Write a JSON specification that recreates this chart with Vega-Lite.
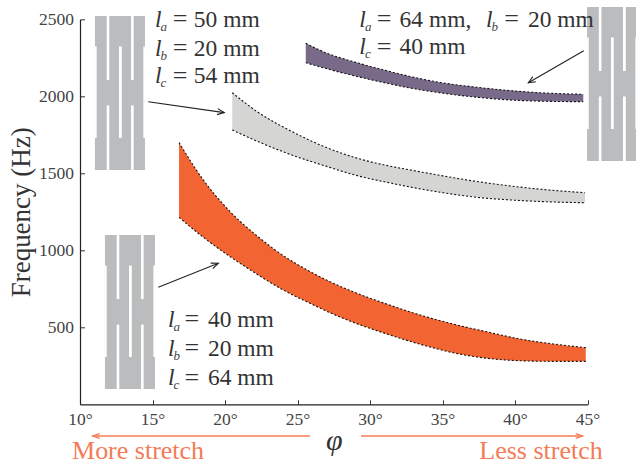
{"$schema":"https://vega.github.io/schema/vega-lite/v6.json","width":507.5,"height":385,"autosize":{"type":"none"},"padding":{"left":80,"top":19.3,"right":48,"bottom":65},"background":"white","config":{"view":{"stroke":null},"font":"Liberation Serif"},
"datasets":{
"bands":[
{"band":"orange","x":16.83,"y":1699,"y2":1214},{"band":"orange","x":18.5,"y":1457,"y2":1085},{"band":"orange","x":20.35,"y":1251,"y2":959},{"band":"orange","x":22.19,"y":1095,"y2":846},{"band":"orange","x":24.02,"y":965,"y2":742},{"band":"orange","x":25.86,"y":862,"y2":656},{"band":"orange","x":27.24,"y":796,"y2":595},{"band":"orange","x":28.83,"y":731,"y2":533},{"band":"orange","x":31.15,"y":651,"y2":457},{"band":"orange","x":33.45,"y":580,"y2":390},{"band":"orange","x":35.73,"y":521,"y2":335},{"band":"orange","x":38.05,"y":471,"y2":299},{"band":"orange","x":40.35,"y":424,"y2":283},{"band":"orange","x":42.62,"y":392,"y2":279},{"band":"orange","x":44.88,"y":368,"y2":279},
{"band":"gray","x":20.5,"y":2023,"y2":1781},{"band":"gray","x":22.3,"y":1895,"y2":1705},{"band":"gray","x":24.6,"y":1772,"y2":1619},{"band":"gray","x":26.9,"y":1671,"y2":1548},{"band":"gray","x":29.19,"y":1596,"y2":1483},{"band":"gray","x":31.5,"y":1544,"y2":1435},{"band":"gray","x":32.76,"y":1522,"y2":1411},{"band":"gray","x":35.04,"y":1483,"y2":1374},{"band":"gray","x":37.36,"y":1447,"y2":1344},{"band":"gray","x":39.66,"y":1418,"y2":1327},{"band":"gray","x":41.93,"y":1395,"y2":1316},{"band":"gray","x":44.83,"y":1374,"y2":1309},
{"band":"purple","x":25.57,"y":2344,"y2":2218},{"band":"purple","x":26.9,"y":2285,"y2":2182},{"band":"purple","x":29.19,"y":2216,"y2":2127},{"band":"purple","x":31.5,"y":2158,"y2":2078},{"band":"purple","x":32.76,"y":2129,"y2":2054},{"band":"purple","x":35.04,"y":2087,"y2":2020},{"band":"purple","x":37.36,"y":2059,"y2":1994},{"band":"purple","x":39.66,"y":2037,"y2":1976},{"band":"purple","x":41.93,"y":2022,"y2":1968},{"band":"purple","x":44.71,"y":2013,"y2":1965}],
"plates":[{"x":11.03,"x2":14.48,"y":2522,"y2":1522},{"x":11.72,"x2":15.17,"y":1099,"y2":99},{"x":44.97,"x2":48.42,"y":2580,"y2":1580}],
"cuts":[
{"x":11.03,"x2":11.15,"y":2324,"y2":1730},{"x":14.37,"x2":14.48,"y":2324,"y2":1730},{"x":11.84,"x2":12.02,"y":2522,"y2":2106},{"x":11.84,"x2":12.02,"y":1941,"y2":1522},{"x":13.52,"x2":13.7,"y":2522,"y2":2106},{"x":13.52,"x2":13.7,"y":1941,"y2":1522},{"x":12.69,"x2":12.88,"y":2324,"y2":1730},
{"x":11.72,"x2":11.84,"y":901,"y2":307},{"x":15.06,"x2":15.17,"y":901,"y2":307},{"x":12.53,"x2":12.71,"y":1099,"y2":683},{"x":12.53,"x2":12.71,"y":518,"y2":99},{"x":14.21,"x2":14.39,"y":1099,"y2":683},{"x":14.21,"x2":14.39,"y":518,"y2":99},{"x":13.38,"x2":13.57,"y":901,"y2":307},
{"x":44.97,"x2":45.09,"y":2382,"y2":1788},{"x":48.3,"x2":48.42,"y":2382,"y2":1788},{"x":45.78,"x2":45.96,"y":2580,"y2":2164},{"x":45.78,"x2":45.96,"y":1999,"y2":1580},{"x":47.45,"x2":47.64,"y":2580,"y2":2164},{"x":47.45,"x2":47.64,"y":1999,"y2":1580},{"x":46.62,"x2":46.81,"y":2382,"y2":1788}],
"blackArrows":[
{"id":"a1","o":1,"x":14.71,"y":1965},{"id":"a1","o":2,"x":19.95,"y":1894},{"id":"a1h","o":1,"x":19.45,"y":1881},{"id":"a1h","o":2,"x":19.95,"y":1894},{"id":"a1h","o":3,"x":19.5,"y":1920},
{"id":"a2","o":1,"x":15.4,"y":760},{"id":"a2","o":2,"x":19.54,"y":916},{"id":"a2h","o":1,"x":19.16,"y":881},{"id":"a2h","o":2,"x":19.54,"y":916},{"id":"a2h","o":3,"x":19.01,"y":917},
{"id":"a3","o":1,"x":44.74,"y":2296},{"id":"a3","o":2,"x":40.92,"y":2088},{"id":"a3h","o":1,"x":41.44,"y":2094},{"id":"a3h","o":2,"x":40.92,"y":2088},{"id":"a3h","o":3,"x":41.23,"y":2128}],
"orangeArrows":[
{"id":"l","o":1,"x":25.86,"y":-206},{"id":"l","o":2,"x":10.88,"y":-206},{"id":"lh","o":1,"x":11.36,"y":-190},{"id":"lh","o":2,"x":10.88,"y":-206},{"id":"lh","o":3,"x":11.36,"y":-222},
{"id":"r","o":1,"x":29.38,"y":-206},{"id":"r","o":2,"x":44.67,"y":-206},{"id":"rh","o":1,"x":44.19,"y":-190},{"id":"rh","o":2,"x":44.67,"y":-206},{"id":"rh","o":3,"x":44.19,"y":-222}],
"plain":[
{"x":17.85,"y":2452,"t":"50  mm"},{"x":17.85,"y":2264,"t":"20  mm"},{"x":17.85,"y":2085,"t":"54  mm"},
{"x":18.82,"y":504,"t":"40  mm"},{"x":18.82,"y":316,"t":"20  mm"},{"x":18.82,"y":125,"t":"64  mm"},
{"x":32.04,"y":2452,"t":"64  mm,"},{"x":40.89,"y":2452,"t":"20  mm"},{"x":32.04,"y":2273,"t":"40  mm"}],
"eq":[{"x":16.9,"y":2447,"t":"="},{"x":16.9,"y":2259,"t":"="},{"x":16.9,"y":2080,"t":"="},{"x":17.71,"y":499,"t":"="},{"x":17.71,"y":311,"t":"="},{"x":17.71,"y":120,"t":"="},{"x":30.97,"y":2447,"t":"="},{"x":39.76,"y":2447,"t":"="},{"x":30.97,"y":2268,"t":"="}],
"ell":[{"x":15.17,"y":2452,"t":"l"},{"x":15.17,"y":2264,"t":"l"},{"x":15.17,"y":2085,"t":"l"},{"x":16.07,"y":504,"t":"l"},{"x":16.07,"y":316,"t":"l"},{"x":16.07,"y":125,"t":"l"},{"x":29.26,"y":2452,"t":"l"},{"x":38.0,"y":2452,"t":"l"},{"x":29.26,"y":2273,"t":"l"}],
"subs":[{"x":15.55,"y":2426,"t":"a"},{"x":15.55,"y":2238,"t":"b"},{"x":15.55,"y":2059,"t":"c"},{"x":16.45,"y":478,"t":"a"},{"x":16.45,"y":290,"t":"b"},{"x":16.45,"y":99,"t":"c"},{"x":29.66,"y":2426,"t":"a"},{"x":38.38,"y":2426,"t":"b"},{"x":29.66,"y":2247,"t":"c"}],
"stretch":[{"x":9.45,"y":-355,"t":"More stretch"},{"x":37.54,"y":-355,"t":"Less stretch"}]
},
"encoding":{
"x":{"field":"x","type":"quantitative","scale":{"domain":[10,45],"nice":false},"axis":{"title":"φ","titleFont":"Liberation Serif","titleFontStyle":"italic","titleFontWeight":"normal","titleFontSize":30,"titleColor":"#333333","titlePadding":-3,"values":[10,15,20,25,30,35,40,45],"labelExpr":"datum.value + '°'","labelFont":"Liberation Serif","labelFontSize":17.5,"labelColor":"#444444","labelPadding":11,"tickSize":-4.5,"tickColor":"#333333","domainColor":"#222222","domainWidth":1.2,"grid":false,"labelFlush":false,"labelOverlap":false}},
"y":{"field":"y","type":"quantitative","scale":{"domain":[0,2500],"nice":false},"axis":{"title":"Frequency (Hz)","titleFont":"Liberation Serif","titleFontWeight":"normal","titleFontSize":27,"titleColor":"#333333","titlePadding":3,"values":[500,1000,1500,2000,2500],"format":"d","labelFont":"Liberation Serif","labelFontSize":17.5,"labelColor":"#444444","labelPadding":11,"tickSize":-4.5,"tickColor":"#333333","domainColor":"#222222","domainWidth":1.2,"grid":false,"labelOverlap":false}}
},
"layer":[
{"data":{"name":"plates"},"mark":{"type":"rect","color":"#bbbcbe"},"encoding":{"x2":{"field":"x2"},"y2":{"field":"y2"}}},
{"data":{"name":"cuts"},"mark":{"type":"rect","color":"#ffffff"},"encoding":{"x2":{"field":"x2"},"y2":{"field":"y2"}}},
{"data":{"name":"bands"},"mark":{"type":"area","interpolate":"monotone","opacity":1},"encoding":{"y2":{"field":"y2"},"color":{"field":"band","type":"nominal","scale":{"domain":["orange","gray","purple"],"range":["#f26532","#d5d5d3","#7a6a8a"]},"legend":null}}},
{"data":{"name":"bands"},"mark":{"type":"line","interpolate":"monotone","color":"#111111","strokeWidth":1.1,"strokeDash":[2,2]},"encoding":{"detail":{"field":"band"}}},
{"data":{"name":"bands"},"mark":{"type":"line","interpolate":"monotone","color":"#111111","strokeWidth":1.1,"strokeDash":[2,2]},"encoding":{"y":{"field":"y2","type":"quantitative"},"detail":{"field":"band"}}},
{"data":{"name":"blackArrows"},"mark":{"type":"line","color":"#222222","strokeWidth":1.1},"encoding":{"detail":{"field":"id"},"order":{"field":"o"}}},
{"data":{"name":"orangeArrows"},"mark":{"type":"line","color":"#f47b56","strokeWidth":1.3},"encoding":{"detail":{"field":"id"},"order":{"field":"o"}}},
{"data":{"name":"plain"},"mark":{"type":"text","align":"left","baseline":"alphabetic","font":"Liberation Serif","fontSize":23.5,"color":"#333333"},"encoding":{"text":{"field":"t"}}},
{"data":{"name":"eq"},"mark":{"type":"text","align":"center","baseline":"alphabetic","font":"Liberation Serif","fontSize":26,"color":"#333333"},"encoding":{"text":{"field":"t"}}},
{"data":{"name":"ell"},"mark":{"type":"text","align":"left","baseline":"alphabetic","font":"Liberation Serif","fontStyle":"italic","fontSize":23.5,"color":"#333333"},"encoding":{"text":{"field":"t"}}},
{"data":{"name":"subs"},"mark":{"type":"text","align":"left","baseline":"alphabetic","font":"Liberation Serif","fontStyle":"italic","fontSize":13,"color":"#444444"},"encoding":{"text":{"field":"t"}}},
{"data":{"name":"stretch"},"mark":{"type":"text","align":"left","baseline":"alphabetic","font":"Liberation Serif","fontSize":26,"color":"#f47b56"},"encoding":{"text":{"field":"t"}}}
]}
